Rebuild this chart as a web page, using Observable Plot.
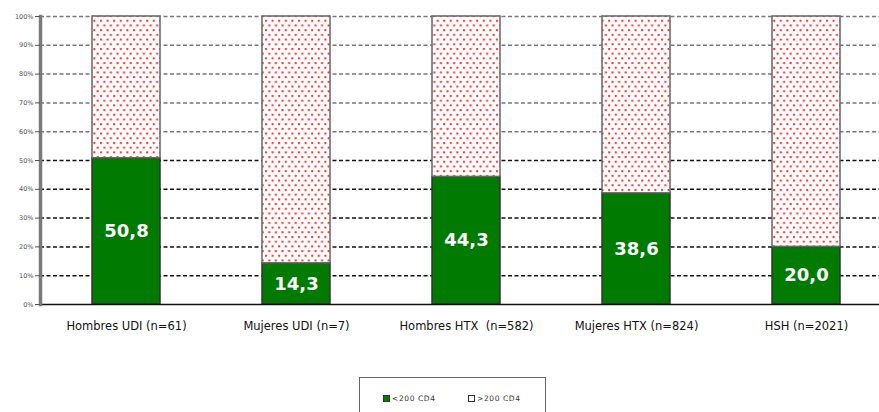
<!DOCTYPE html>
<html>
<head>
<meta charset="utf-8">
<script src="https://cdn.jsdelivr.net/npm/d3@7"></script>
<script src="https://cdn.jsdelivr.net/npm/@observablehq/plot@0.6"></script>
<style>
  body { margin: 0; background: #fff; }
  #wrap { position: relative; width: 879px; height: 412px; overflow: hidden; }
  #legend { position: absolute; left: 359px; top: 377px; width: 187px; height: 40px;
    border: 1.5px solid #666; box-sizing: border-box; font-family: "DejaVu Sans", sans-serif;
    font-size: 7.5px; color: #333; letter-spacing: 0.6px; }
  .item { position: absolute; top: 16px; display: flex; align-items: center; }
  .sw { width: 5px; height: 5px; border: 1px solid #333; margin-right: 2px; }
</style>
</head>
<body>
<div id="wrap">
  <div id="chart"></div>
  <div id="legend">
    <div class="item" style="left:23px"><div class="sw" style="background:#007a00"></div><span>&lt;200 CD4</span></div>
    <div class="item" style="left:108px"><div class="sw" style="background:#fff"></div><span>&gt;200 CD4</span></div>
  </div>
</div>
<script>
const categories = ["Hombres UDI (n=61)", "Mujeres UDI (n=7)", "Hombres HTX  (n=582)", "Mujeres HTX (n=824)", "HSH (n=2021)"];
const under200 = [50.8, 14.3, 44.3, 38.6, 20.0];
const over200 = [49.2, 85.7, 55.7, 61.4, 80.0];
const yTicks = [0, 10, 20, 30, 40, 50, 60, 70, 80, 90, 100];

const rows = categories.map((c, i) => ({cat: c, low: under200[i], high: over200[i]}));

const chart = Plot.plot({
  width: 879,
  height: 345,
  marginLeft: 40,
  marginRight: 0,
  marginTop: 16,
  marginBottom: 41,
  style: {fontFamily: "DejaVu Sans, sans-serif", background: "#fff", overflow: "visible"},
  x: {type: "band", domain: categories, range: [40, 892], paddingInner: 0.6, paddingOuter: 0.3, label: null},
  y: {domain: [0, 100], label: null},
  marks: [
    Plot.gridY([60, 70, 80, 90, 100], {stroke: "#777", strokeOpacity: 1, strokeWidth: 1.5, strokeDasharray: "4,2.5"}),
    Plot.gridY([10, 20, 30, 40, 50], {stroke: "#111", strokeOpacity: 1, strokeWidth: 1.5, strokeDasharray: "4,2.5"}),
    Plot.barY(rows, {x: "cat", y1: 0, y2: "low", fill: "#007a00", stroke: "#333", strokeWidth: 1.5}),
    Plot.barY(rows, {x: "cat", y1: "low", y2: (d) => d.low + d.high, fill: "url(#dots)", stroke: "#666", strokeWidth: 1.5}),
    Plot.ruleY([0], {stroke: "#111", strokeWidth: 1.5}),
    Plot.frame({anchor: "left", stroke: "#7a7a7a", strokeWidth: 3.5}),
    Plot.text(rows, {x: "cat", y: (d) => d.low / 2, text: (d) => d.low.toFixed(1).replace(".", ","),
      fill: "#fff", fontSize: 18, fontWeight: "bold", fontFamily: "DejaVu Sans, sans-serif"}),
    Plot.axisY({ticks: yTicks, tickFormat: (d) => d + "%", tickSize: 5, tickPadding: 2, fontSize: 6.5, color: "#555", stroke: "#555", label: null}),
    Plot.axisX({tickSize: 0, tickPadding: 17, fontSize: 11.5, fill: "#111", label: null})
  ]
});

const ns = "http://www.w3.org/2000/svg";
const defs = document.createElementNS(ns, "defs");
defs.innerHTML = `<pattern id="dots" patternUnits="userSpaceOnUse" width="6.6" height="9.4">
  <rect width="6.6" height="9.4" fill="#fff"/>
  <rect x="1" y="1" width="2" height="2" fill="#ff2a2a"/>
  <rect x="4.3" y="5.7" width="2" height="2" fill="#ff2a2a"/>
</pattern>`;
chart.insertBefore(defs, chart.firstChild);
document.getElementById("chart").appendChild(chart);
</script>
</body>
</html>
